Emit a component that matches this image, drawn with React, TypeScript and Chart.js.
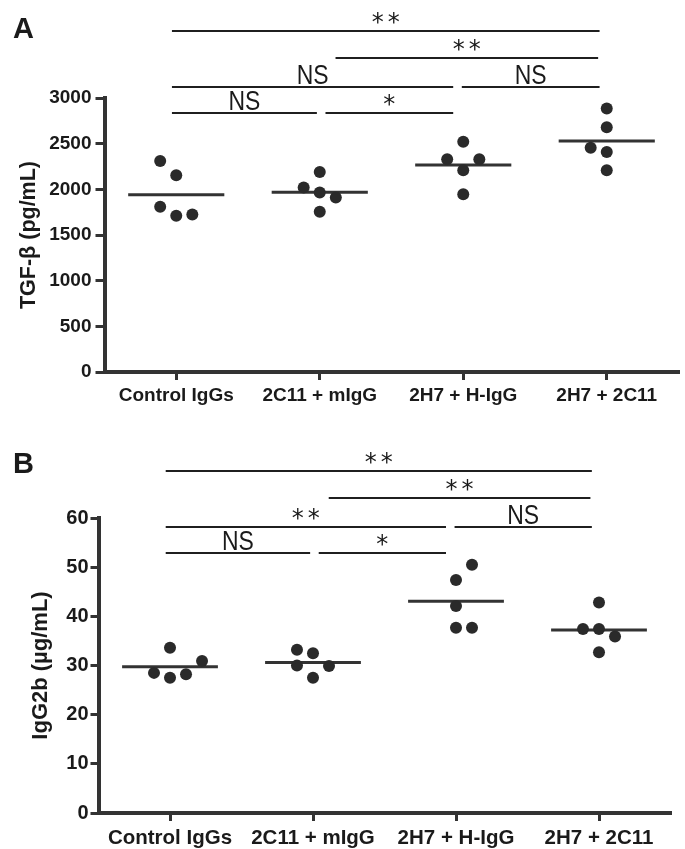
import React, { useEffect, useRef } from "react";
import { Chart, registerables } from "chart.js";

Chart.register(...registerables);

// ---------- data ----------
const categories = ["Control IgGs", "2C11 + mIgG", "2H7 + H-IgG", "2H7 + 2C11"];

// Panel A: TGF-β (pg/mL)
const tgfControl = [2310, 2155, 1810, 1710, 1725];
const tgf2C11 = [2190, 2020, 1965, 1910, 1755];
const tgf2H7HIgG = [2520, 2330, 2330, 2210, 1945];
const tgf2H72C11 = [2885, 2680, 2455, 2410, 2210];
const tgfJitter = [
  [-1, 0, -1, 0, 1],
  [0, -1, 0, 1, 0],
  [0, -1, 1, 0, 0],
  [0, 0, -1, 0, 0],
];
const tgfTicks = [0, 500, 1000, 1500, 2000, 2500, 3000];
const tgfBracketLabels = ["**", "**", "NS", "NS", "NS", "*"];

// Panel B: IgG2b (µg/mL)
const iggControl = [33.6, 30.9, 28.5, 27.5, 28.2];
const igg2C11 = [33.2, 32.5, 30.0, 29.9, 27.5];
const igg2H7HIgG = [50.5, 47.4, 42.1, 37.7, 37.7];
const igg2H72C11 = [42.8, 37.4, 37.4, 35.9, 32.7];
const iggJitter = [
  [0, 2, -1, 0, 1],
  [-1, 0, -1, 1, 0],
  [1, 0, 0, 0, 1],
  [0, -1, 0, 1, 0],
];
const iggTicks = [0, 10, 20, 30, 40, 50, 60];
const iggBracketLabels = ["**", "**", "**", "NS", "NS", "*"];

// significance brackets (category coordinates)
const bracketFrom = [-0.03, 1.11, -0.03, 1.99, -0.03, 1.04];
const bracketTo = [2.95, 2.94, 1.93, 2.95, 0.98, 1.93];
const bracketRow = [0, 1, 2, 2, 3, 3];

// ---------- helpers ----------
const JIT = 0.112;
const FONT = '"Liberation Sans", Arial, Helvetica, sans-serif';
const mean = (a: number[]) => a.reduce((s, v) => s + v, 0) / a.length;

const bracketPlugin = {
  id: "brackets",
  afterDraw(chart: any, _args: any, opts: any) {
    const ctx = chart.ctx as CanvasRenderingContext2D;
    const xs = chart.scales.x;
    ctx.save();
    ctx.fillStyle = "#1a1a1a";
    ctx.font = `bold 29px ${FONT}`;
    ctx.textAlign = "left";
    ctx.textBaseline = "alphabetic";
    ctx.fillText(opts.letter, opts.letterX, opts.letterBaseline);

    opts.labels.forEach((label: string, i: number) => {
      const y = opts.rowY[bracketRow[i]];
      const x1 = xs.getPixelForValue(bracketFrom[i]);
      const x2 = xs.getPixelForValue(bracketTo[i]);
      ctx.strokeStyle = "#1f1f1f";
      ctx.lineWidth = 2.2;
      ctx.beginPath();
      ctx.moveTo(x1, y);
      ctx.lineTo(x2, y);
      ctx.stroke();
      const cx = (x1 + x2) / 2;
      ctx.fillStyle = "#1a1a1a";
      if (label === "NS") {
        ctx.save();
        ctx.font = `27px ${FONT}`;
        ctx.translate(cx, y - 3.5);
        ctx.scale(0.85, 1);
        ctx.textAlign = "center";
        ctx.textBaseline = "alphabetic";
        ctx.fillText(label, 0, 0);
        ctx.restore();
      } else {
        ctx.save();
        ctx.font = `24px "DejaVu Sans", sans-serif`;
        (ctx as any).letterSpacing = "4px";
        const m = ctx.measureText(label);
        const w = m.width - 4;
        const asc = m.actualBoundingBoxAscent;
        const desc = m.actualBoundingBoxDescent;
        const base = y - 13.5 + (asc - desc) / 2;
        ctx.textAlign = "left";
        ctx.textBaseline = "alphabetic";
        ctx.fillText(label, cx - w / 2, base);
        ctx.restore();
      }
    });
    ctx.restore();
  },
};

type Panel = {
  groups: number[][];
  jitter: number[][];
  ticks: number[];
  yTitle: string;
  labels: string[];
  letter: string;
  letterX: number;
  letterBaseline: number;
  rowY: number[];
  padTop: number;
  padRight: number;
  yWidth: number;
  xHeight: number;
  tickFont: number;
  xFont: number;
  titleFont: number;
  titlePad: number;
  yTickLen: number;
  yTickPad: number;
  xTickPad: number;
};

function makeConfig(p: Panel): any {
  const datasets: any[] = [];
  p.groups.forEach((vals, g) => {
    datasets.push({
      type: "scatter",
      data: vals.map((v, k) => ({ x: g + p.jitter[g][k] * JIT, y: v })),
      pointRadius: 6,
      pointBackgroundColor: "#2a2a2a",
      pointBorderWidth: 0,
      showLine: false,
    });
    const m = mean(vals);
    datasets.push({
      type: "line",
      data: [
        { x: g - 0.335, y: m },
        { x: g + 0.335, y: m },
      ],
      borderColor: "#333",
      borderWidth: 3,
      pointRadius: 0,
      fill: false,
      showLine: true,
    });
  });

  return {
    type: "scatter",
    data: { datasets },
    options: {
      animation: false,
      responsive: false,
      devicePixelRatio: 1,
      layout: { padding: { top: p.padTop, right: p.padRight, left: 0, bottom: 0 } },
      plugins: {
        legend: { display: false },
        tooltip: { enabled: false },
        brackets: {
          labels: p.labels,
          letter: p.letter,
          letterX: p.letterX,
          letterBaseline: p.letterBaseline,
          rowY: p.rowY,
        },
      },
      scales: {
        x: {
          type: "linear",
          min: -0.5,
          max: 3.5,
          afterBuildTicks: (s: any) => {
            s.ticks = categories.map((_, i) => ({ value: i }));
          },
          afterFit: (s: any) => {
            s.height = p.xHeight;
          },
          ticks: {
            autoSkip: false,
            maxRotation: 0,
            padding: p.xTickPad,
            color: "#1a1a1a",
            font: { family: FONT, size: p.xFont, weight: "bold" },
            callback: (v: any) => categories[Math.round(v)],
          },
          grid: {
            drawOnChartArea: false,
            drawTicks: true,
            tickLength: 8,
            lineWidth: 3,
            color: "#333",
          },
          border: { display: true, width: 4, color: "#333" },
        },
        y: {
          type: "linear",
          min: 0,
          max: p.ticks[p.ticks.length - 1],
          afterBuildTicks: (s: any) => {
            s.ticks = p.ticks.map((v) => ({ value: v }));
          },
          afterFit: (s: any) => {
            s.width = p.yWidth;
          },
          ticks: {
            padding: p.yTickPad,
            color: "#1a1a1a",
            font: { family: FONT, size: p.tickFont, weight: "bold" },
            callback: (v: any) => String(v),
          },
          grid: {
            drawOnChartArea: false,
            drawTicks: true,
            tickLength: p.yTickLen,
            lineWidth: 3,
            color: "#333",
          },
          border: { display: true, width: 4, color: "#333" },
          title: {
            display: true,
            text: p.yTitle,
            color: "#1a1a1a",
            padding: { top: p.titlePad, bottom: 0 },
            font: { family: FONT, size: p.titleFont, weight: "bold" },
          },
        },
      },
    },
    plugins: [bracketPlugin],
  };
}

const panelA: Panel = {
  groups: [tgfControl, tgf2C11, tgf2H7HIgG, tgf2H72C11],
  jitter: tgfJitter,
  ticks: tgfTicks,
  yTitle: "TGF-β (pg/mL)",
  labels: tgfBracketLabels,
  letter: "A",
  letterX: 13,
  letterBaseline: 38,
  rowY: [31, 58, 87, 113],
  padTop: 98,
  padRight: 6.5,
  yWidth: 104.5,
  xHeight: 53,
  tickFont: 19,
  xFont: 19,
  titleFont: 21.5,
  titlePad: 16,
  yTickLen: 9,
  yTickPad: 4,
  xTickPad: 4,
};

const panelB: Panel = {
  groups: [iggControl, igg2C11, igg2H7HIgG, igg2H72C11],
  jitter: iggJitter,
  ticks: iggTicks,
  yTitle: "IgG2b (µg/mL)",
  labels: iggBracketLabels,
  letter: "B",
  letterX: 13,
  letterBaseline: 48,
  rowY: [46, 73, 102, 128],
  padTop: 93,
  padRight: 14.5,
  yWidth: 98.5,
  xHeight: 36,
  tickFont: 20,
  xFont: 20.5,
  titleFont: 22,
  titlePad: 28,
  yTickLen: 8,
  yTickPad: 2,
  xTickPad: 5,
};

export default function App() {
  const refA = useRef<HTMLCanvasElement>(null);
  const refB = useRef<HTMLCanvasElement>(null);
  useEffect(() => {
    const a = new Chart(refA.current as HTMLCanvasElement, makeConfig(panelA));
    const b = new Chart(refB.current as HTMLCanvasElement, makeConfig(panelB));
    return () => {
      a.destroy();
      b.destroy();
    };
  }, []);
  return (
    <div style={{ position: "absolute", left: 0, top: 0, width: 685, height: 849, background: "#fff" }}>
      <canvas
        ref={refA}
        width={685}
        height={425}
        style={{ position: "absolute", left: 0, top: 0, width: 685, height: 425 }}
      />
      <canvas
        ref={refB}
        width={685}
        height={424}
        style={{ position: "absolute", left: 0, top: 425, width: 685, height: 424 }}
      />
    </div>
  );
}
